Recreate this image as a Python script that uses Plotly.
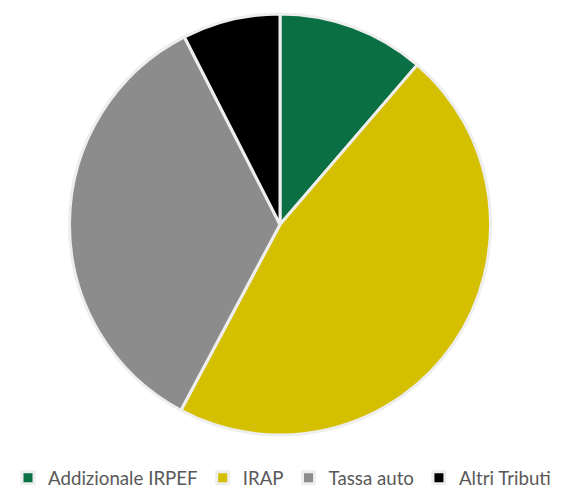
import plotly.graph_objects as go

labels = ["Addizionale IRPEF", "IRAP", "Tassa auto", "Altri Tributi"]
values = [11.3, 46.5, 34.7, 7.5]
colors = ["#0a7044", "#d4bf00", "#8c8c8c", "#000000"]

fig = go.Figure(go.Pie(
    labels=labels, values=values, sort=False, direction="clockwise", rotation=0,
    marker=dict(colors=colors, line=dict(color="#eeeeee", width=3)),
    textinfo="none", hoverinfo="label+percent",
    domain=dict(x=[0.1096, 0.8601], y=[0.1338, 0.9878]),
))
fig.update_layout(
    width=561, height=493,
    margin=dict(l=0, r=0, t=0, b=0),
    paper_bgcolor="white", plot_bgcolor="white",
    font=dict(family="Lato", size=18.7, color="#595959"),
    legend=dict(orientation="h", x=0.0, xanchor="left", y=0.0467, yanchor="middle",
                itemwidth=30, font=dict(size=18.7, color="#595959")),
)
fig.write_html("out.html")
